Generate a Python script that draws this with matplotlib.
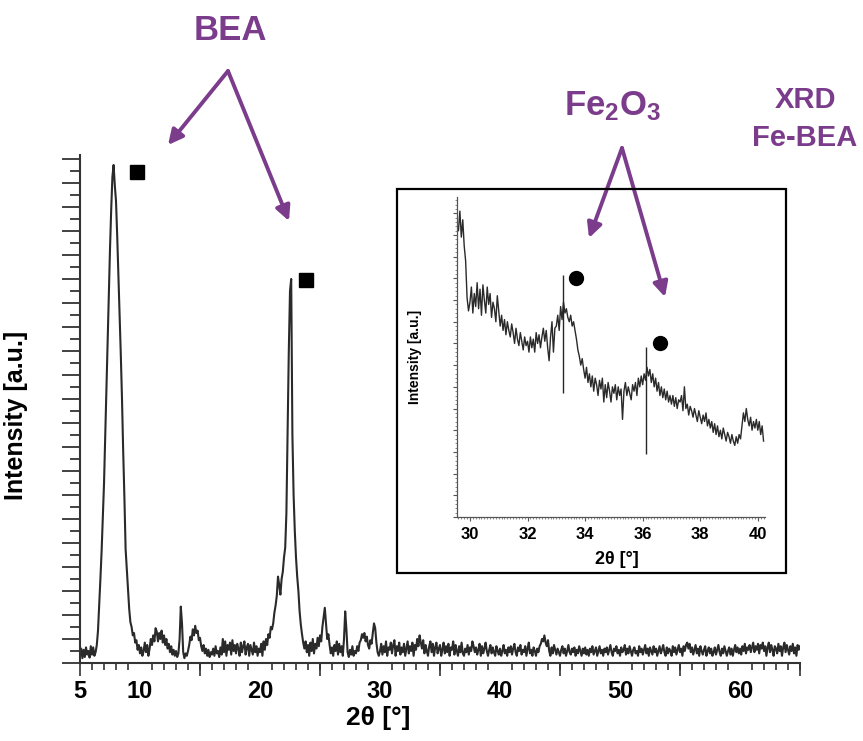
import numpy as np
import matplotlib
matplotlib.use("Agg")
import matplotlib.pyplot as plt
from matplotlib.patches import Rectangle, FancyArrowPatch

plt.rcParams['font.family'] = ['Liberation Sans', 'DejaVu Sans']
plt.rcParams['font.weight'] = 'bold'
plt.rcParams['mathtext.fontset'] = 'custom'
plt.rcParams['mathtext.rm'] = 'Liberation Sans:bold'
plt.rcParams['mathtext.it'] = 'Liberation Sans:bold'
plt.rcParams['mathtext.bf'] = 'Liberation Sans:bold'

# main pattern, 2theta from 5 to 65 every 0.1 deg
tt_start, tt_step = 5.0, 0.1
intensity = [
    60, 120, 40, 110, 50, 130, 70, 100, 45, 140,            # 5
    70, 130, 60, 90, 150, 270, 480, 700, 930, 1200,         # 6
    1490, 1880, 2280, 2680, 3080, 3450, 3780, 4050, 4150, 3980,  # 7
    3850, 3560, 3230, 2900, 2570, 2200, 1760, 1380, 950, 780,    # 8
    620, 450, 340, 300, 230, 250, 170, 190, 110, 150,       # 9
    80, 130, 60, 100, 170, 90, 150, 60, 120, 200,           # 10
    150, 230, 180, 290, 260, 180, 250, 200, 270, 170,       # 11
    230, 150, 200, 120, 160, 90, 140, 70, 110, 60,          # 12
    100, 50, 80, 200, 470, 330, 90, 40, 80, 60,             # 13
    100, 150, 220, 190, 280, 230, 310, 250, 270, 190,       # 14
    210, 140, 100, 150, 80, 120, 60, 110, 50, 90,           # 15
    70, 120, 60, 140, 80, 100, 50, 130, 70, 200,            # 16
    90, 180, 60, 150, 110, 170, 70, 190, 100, 150,          # 17
    80, 160, 120, 60, 170, 90, 140, 180, 70, 130,           # 18
    160, 60, 150, 110, 70, 170, 90, 140, 60, 120,           # 19
    90, 160, 60, 180, 110, 200, 150, 240, 210, 300,         # 20
    280, 330, 420, 480, 560, 720, 650, 570, 700, 760,       # 21
    880, 960, 1250, 1900, 2600, 3100, 3200, 1900, 1400, 1100,  # 22
    880, 720, 600, 430, 320, 240, 170, 120, 180, 90,        # 23
    150, 60, 170, 100, 200, 80, 160, 120, 210, 140,         # 24
    230, 180, 300, 380, 460, 330, 200, 240, 150, 80,        # 25
    130, 60, 150, 100, 180, 70, 160, 90, 140, 60,           # 26
    200, 430, 280, 90, 50, 110, 70, 140, 60, 100,           # 27
    80, 140, 100, 170, 190, 240, 210, 250, 180, 220,        # 28
    150, 120, 190, 160, 250, 330, 290, 170, 90, 60,         # 29
    100, 160, 70, 140, 90, 180, 60, 130, 110, 170,          # 30
    80, 150, 190, 60, 140, 100, 170, 70, 130, 90,           # 31
    160, 60, 120, 180, 80, 140, 100, 170, 60, 150,          # 32
    110, 200, 140, 230, 170, 120, 190, 80, 150, 100,        # 33
    60, 140, 180, 90, 160, 60, 130, 170, 80, 120,           # 34
    150, 60, 110, 170, 80, 140, 90, 160, 60, 130,           # 35
    110, 180, 70, 150, 100, 60, 140, 90, 170, 80,           # 36
    60, 120, 90, 150, 70, 130, 100, 180, 140, 90,           # 37
    130, 70, 110, 160, 60, 140, 80, 120, 170, 100,          # 38
    60, 110, 150, 80, 130, 90, 60, 140, 100, 70,            # 39
    120, 60, 100, 150, 80, 110, 60, 130, 90, 140,           # 40
    70, 120, 160, 90, 60, 130, 100, 150, 70, 110,           # 41
    90, 140, 60, 120, 170, 80, 110, 60, 130, 100,           # 42
    60, 120, 90, 140, 160, 200, 180, 230, 170, 140,         # 43
    190, 100, 60, 130, 80, 150, 110, 70, 120, 90,           # 44
    60, 110, 140, 80, 120, 60, 100, 150, 90, 70,            # 45
    120, 90, 130, 60, 110, 80, 140, 100, 60, 120,           # 46
    80, 130, 70, 110, 60, 120, 90, 140, 70, 100,            # 47
    130, 60, 100, 140, 80, 110, 60, 120, 90, 130,           # 48
    70, 110, 150, 90, 60, 120, 100, 140, 80, 110,           # 49
    60, 130, 90, 110, 150, 70, 120, 80, 140, 100,           # 50
    60, 110, 130, 80, 100, 60, 140, 90, 120, 70,            # 51
    110, 150, 80, 120, 60, 130, 100, 70, 140, 90,           # 52
    120, 60, 100, 140, 80, 110, 150, 90, 60, 130,           # 53
    80, 120, 100, 60, 140, 90, 130, 70, 110, 150,           # 54
    90, 120, 60, 140, 100, 150, 170, 120, 160, 90,          # 55
    130, 70, 110, 150, 80, 120, 60, 140, 100, 70,           # 56
    110, 140, 60, 100, 130, 80, 120, 60, 90, 130,           # 57
    70, 110, 150, 90, 60, 120, 80, 140, 100, 60,            # 58
    100, 130, 70, 120, 60, 110, 150, 90, 130, 80,           # 59
    120, 70, 140, 100, 160, 80, 130, 110, 150, 90,          # 60
    130, 170, 90, 140, 110, 160, 80, 150, 120, 170,         # 61
    100, 140, 60, 130, 170, 90, 150, 110, 60, 140,          # 62
    120, 80, 160, 100, 140, 60, 130, 170, 90, 150,          # 63
    110, 70, 140, 100, 160, 80, 130, 60, 150, 110,          # 64
    140,                                                    # 65
]
two_theta = tt_start + tt_step * np.arange(len(intensity))

# BEA reflections marked with squares
bea_x = [9.75, 23.8]
bea_y = [4090, 3190]

# inset: 29.6 - 40.2 every 0.05 deg
in_start, in_step = 29.6, 0.05
in_intensity = [
    1320, 1410, 1290, 1370, 1250, 1180, 1010, 950,
    990, 1060, 940, 1030, 970, 1080, 960, 1050, 930, 1070, 1000, 940, 1060, 980, 1030, 920, 990, 960, 900, 1020,
    950, 880, 930, 860, 910, 840, 900, 860, 830, 890, 850, 800, 870, 820, 790, 850, 810, 770, 830, 790,
    810, 760, 830, 780, 820, 760, 850, 800, 840, 780, 830, 870, 810, 860, 780, 720, 830, 900, 760, 870,
    880, 930, 860, 970, 910, 990, 940, 960, 920, 900, 930, 880, 900, 860, 820, 770, 740, 700, 730, 680,
    640, 690, 620, 660, 600, 650, 580, 640, 610, 560, 630, 590, 640, 530, 610, 550, 620, 580, 530, 600,
    570, 610, 540, 600, 560, 590, 450, 580, 620, 560, 600, 570, 540, 610, 580, 620, 560, 640, 600, 650,
    610, 660, 630, 690, 650, 680, 620, 660, 600, 640, 580, 620, 560, 600, 550, 590, 540, 580, 530, 560,
    520, 560, 510, 550, 500, 540, 530, 560, 490, 600, 500, 520, 470, 510, 490, 460, 500, 470, 440, 490,
    460, 430, 470, 440, 480, 420, 450, 410, 440, 390, 430, 380, 420, 370, 400, 360, 410, 380, 350, 390,
    370, 340, 380, 350, 330, 370, 340, 380, 360, 420, 480, 440, 500, 450, 420, 460, 400, 440, 410, 450,
    400, 440, 380, 420, 350,
]
in_theta = in_start + in_step * np.arange(len(in_intensity))

# Fe2O3 reflections: sticks and dots
fe_x = [33.22, 36.12]
fe_lo = [571, 290]
fe_hi = [1115, 783]
fe_dot_x = [33.7, 36.6]
fe_dot_y = [1101, 802]

purple = '#7b3c8c'
W, H = 863, 741

def fp(px, py):
    # figure pixel (from top-left) -> figure fraction
    return (px / W, 1 - py / H)

fig = plt.figure(figsize=(8.63, 7.41), dpi=100)

# ---- main axes
ax = fig.add_axes([80 / W, 1 - 663 / H, 720 / W, 508 / H])
ax.plot(two_theta, intensity, color='#2a2a2a', lw=1.5)
ax.plot(bea_x, bea_y, 's', color='black', ms=10)
ax.set_xlim(5, 65)
ax.set_ylim(0, 4233)
for s in ['top', 'right']:
    ax.spines[s].set_visible(False)
for s in ['left', 'bottom']:
    ax.spines[s].set_linewidth(1.5)
    ax.spines[s].set_color('#333333')

ax.set_xticks([5, 10, 20, 30, 40, 50, 60])
ax.set_xticks(np.arange(5, 66, 1), minor=True)
ax.tick_params(axis='x', which='major', length=0, pad=12, labelsize=17)
ax.tick_params(axis='x', which='minor', length=5, width=1.2, color='#333333')
sec = ax.secondary_xaxis('bottom')
sec.set_xticks(np.arange(5, 66, 10))
sec.tick_params(length=9, width=1.2, color='#333333', labelbottom=False)
sec.spines['bottom'].set_visible(False)

ax.set_yticks(np.arange(0, 4233, 200))
ax.set_yticks(np.arange(0, 4233, 100), minor=True)
ax.tick_params(axis='y', which='major', length=13, width=1.3, color='#333333', labelleft=False)
ax.tick_params(axis='y', which='minor', length=7, width=1.3, color='#333333')

ax.set_xlabel('2θ [°]', fontsize=19, fontweight='bold')
ax.xaxis.set_label_coords(0.414, -0.085)
ax.set_ylabel('Intensity [a.u.]', fontsize=18, fontweight='bold')
ax.yaxis.set_label_coords(-0.072, 0.488)

# ---- inset
x0, y0 = fp(397, 573)
x1, y1 = fp(786, 189)
fig.patches.append(Rectangle((x0, y0), x1 - x0, y1 - y0, transform=fig.transFigure,
                             fill=False, lw=1.6, ec='black'))

ai = fig.add_axes([457 / W, 1 - 517 / H, 308 / W, 320 / H])
ai.plot(in_theta, in_intensity, color='#2a2a2a', lw=1.0)
ai.vlines(fe_x, fe_lo, fe_hi, color='#262626', lw=1.0)
ai.plot(fe_dot_x, fe_dot_y, 'o', color='black', ms=10)
ai.set_xlim(29.55, 40.25)
ai.set_ylim(0, 1475)
for s in ['top', 'right']:
    ai.spines[s].set_visible(False)
for s in ['left', 'bottom']:
    ai.spines[s].set_linewidth(0.9)
    ai.spines[s].set_color('#555555')
ai.set_xticks(np.arange(30, 41, 2))
ai.set_xticks(np.arange(29.6, 40.25, 0.1), minor=True)
ai.set_yticks(np.arange(0, 1475, 100))
ai.set_yticks(np.arange(0, 1475, 20), minor=True)
ai.tick_params(axis='x', which='major', length=3, labelsize=12, pad=4, color='#555555')
ai.tick_params(axis='x', which='minor', length=1.5, color='#777777')
ai.tick_params(axis='y', which='major', length=3, color='#555555', labelleft=False)
ai.tick_params(axis='y', which='minor', length=1.5, color='#777777')
ai.set_xlabel('2θ [°]', fontsize=13, fontweight='bold')
ai.xaxis.set_label_coords(0.52, -0.105)
ai.set_ylabel('Intensity [a.u.]', fontsize=10, fontweight='bold')
ai.yaxis.set_label_coords(-0.114, 0.5)

# ---- purple labels and arrows
arrow_kw = dict(arrowstyle='-|>', color=purple, lw=2.8, mutation_scale=22,
                shrinkA=0, shrinkB=0)
fig.text(*fp(230, 30), 'BEA', color=purple, fontsize=25, fontweight='bold',
         ha='center', va='center')
for tip in [(168, 145), (289, 221)]:
    fig.add_artist(FancyArrowPatch(fp(228, 71), fp(*tip),
                                   transform=fig.transFigure, **arrow_kw))

fig.text(*fp(613, 106), r'$\mathrm{Fe_2O_3}$', color=purple, fontsize=25,
         ha='center', va='center')
for tip in [(589, 238), (665, 297)]:
    fig.add_artist(FancyArrowPatch(fp(622, 148), fp(*tip),
                                   transform=fig.transFigure, **arrow_kw))

fig.text(*fp(805, 100), 'XRD', color=purple, fontsize=21, fontweight='bold',
         ha='center', va='center')
fig.text(*fp(805, 138), 'Fe-BEA', color=purple, fontsize=21, fontweight='bold',
         ha='center', va='center')

fig.savefig('out.png', dpi=100)
